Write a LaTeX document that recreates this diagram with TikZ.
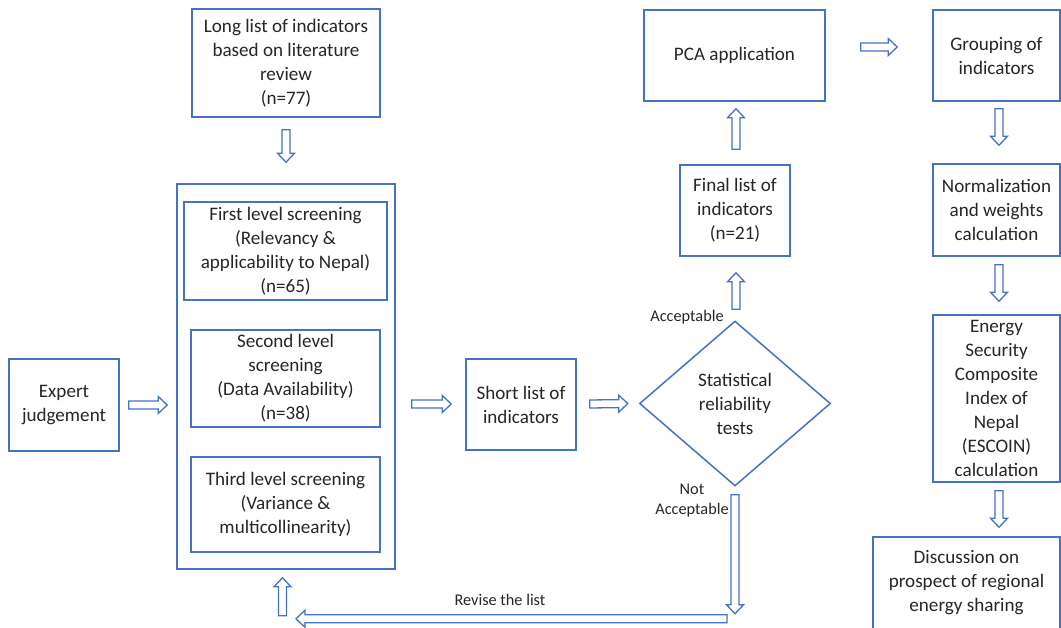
\documentclass[tikz,border=0pt]{standalone}
\usepackage{fontspec}
\setmainfont{Carlito}
\usetikzlibrary{shapes.geometric,calc}
\definecolor{boxblue}{RGB}{68,114,196}
\definecolor{txt}{RGB}{38,38,38}
\tikzset{
  box/.style={draw=boxblue, line width=1.5pt, rectangle, align=center, text=txt,
    inner sep=0pt, font=\fontsize{19.1}{24}\selectfont},
  decide/.style={draw=boxblue, line width=1.5pt, diamond, align=center, text=txt,
    inner sep=0pt, font=\fontsize{19.1}{24}\selectfont},
  lbl/.style={text=txt, align=center, inner sep=0pt, font=\fontsize{16.3}{20}\selectfont},
  barr/.style={draw=boxblue, line width=1.3pt, fill=white, line join=miter}
}
\newcommand\barrow[2]{%
  \draw[barr] let \p1=#1, \p2=#2,
    \n1={veclen(\x2-\x1,\y2-\y1)}, \n2={atan2(\y2-\y1,\x2-\x1)} in
    [shift={(\p1)}, rotate=\n2]
    (0pt,-4pt) -- (\n1-9pt,-4pt) -- (\n1-9pt,-8.5pt) -- (\n1,0pt)
    -- (\n1-9pt,8.5pt) -- (\n1-9pt,4pt) -- (0pt,4pt) -- cycle;}
\begin{document}
\begin{tikzpicture}[x=1pt,y=-1pt]
\useasboundingbox (0,0) rectangle (1061,627);
% nodes
\node[box, minimum width=188pt, minimum height=108pt] (long) at (286,63)
  {Long list of indicators\\based on literature\\review\\(n=77)};
\node[box, minimum width=218pt, minimum height=385pt] (cont) at (286,376.5) {};
\node[box, minimum width=203pt, minimum height=98pt] (first) at (285.5,251)
  {First level screening\\(Relevancy \&\\applicability to Nepal)\\(n=65)};
\node[box, minimum width=189pt, minimum height=97pt] (second) at (285.5,378.5)
  {Second level\\screening\\(Data Availability)\\(n=38)};
\node[box, minimum width=189pt, minimum height=95pt] (third) at (285.5,504.5)
  {Third level screening\\(Variance \&\\multicollinearity)};
\node[box, minimum width=110pt, minimum height=92pt] (expert) at (64,405)
  {Expert\\judgement};
\node[box, minimum width=110pt, minimum height=91pt] (short) at (521,404.5)
  {Short list of\\indicators};
\node[decide, minimum width=191pt, minimum height=165pt] (stat) at (735,403.5)
  {Statistical\\reliability\\tests};
\node[box, minimum width=110pt, minimum height=91pt] (final) at (735,210.5)
  {Final list of\\indicators\\(n=21)};
\node[box, minimum width=181pt, minimum height=91pt] (pca) at (734.5,55.5)
  {PCA application};
\node[box, minimum width=127pt, minimum height=91pt] (group) at (996.5,55.5)
  {Grouping of\\indicators};
\node[box, minimum width=127pt, minimum height=92pt] (norm) at (996.5,210)
  {Normalization\\and weights\\calculation};
\node[box, minimum width=127pt, minimum height=167pt] (escoin) at (996.5,398.5)
  {Energy\\Security\\Composite\\Index of\\Nepal\\(ESCOIN)\\calculation};
\node[box, minimum width=187pt, minimum height=92pt] (disc) at (966.5,583)
  {Discussion on\\prospect of regional\\energy sharing};
% labels
\node[lbl] (acc) at (687,317) {Acceptable};
\node[lbl] (nacc) at (692,501) {Not\\Acceptable};
\node[lbl] (rev) at (500,600) {Revise the list};
% coordinates for the return path
\coordinate (turn) at ($(stat.south)+(0,127)$);
\coordinate (back) at ($(cont.south)+(-3.5,46)$);
% arrows
\barrow{($(long.south)+(0,12)$)}{($(cont.north)+(0,-21)$)}
\barrow{($(expert.east)+(9,0)$)}{($(cont.west)+(-9,28.5)$)}
\barrow{($(cont.east)+(16,27.5)$)}{($(short.west)+(-14,-0.5)$)}
\barrow{($(short.east)+(13,-0.5)$)}{($(stat.west)+(-11,0)$)}
\barrow{($(stat.north)+(1,-11)$)}{($(final.south)+(1,16)$)}
\barrow{($(final.north)+(1,-15)$)}{($(pca.south)+(1.5,7)$)}
\barrow{($(pca.east)+(35,-8.5)$)}{($(group.west)+(-35,-8.5)$)}
\barrow{($(group.south)+(2.5,7)$)}{($(norm.north)+(2.5,-18)$)}
\barrow{($(norm.south)+(2.5,8)$)}{($(escoin.north)+(2.5,-13)$)}
\barrow{($(escoin.south)+(2.5,8)$)}{($(disc.north)+(32.5,-9)$)}
\barrow{($(stat.south)+(0,8)$)}{(turn)}
\barrow{($(turn)+(-8,5)$)}{($(back)+(13.5,3)$)}
\barrow{(back)}{($(cont.south)+(-3.5,8)$)}
\end{tikzpicture}
\end{document}
